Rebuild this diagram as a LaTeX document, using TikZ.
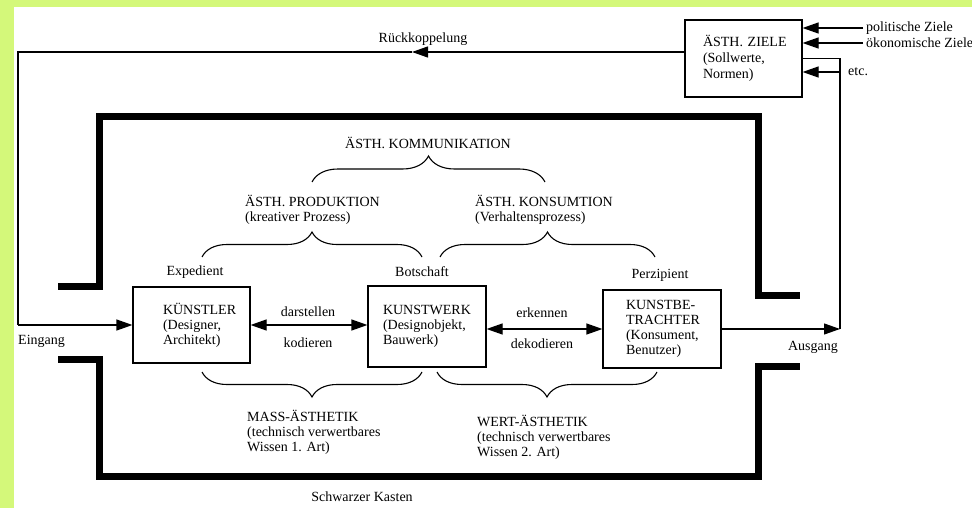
\documentclass[tikz,border=0pt]{standalone}
\usepackage{fontspec}
\setmainfont{Liberation Serif}
\usetikzlibrary{arrows.meta,decorations.pathreplacing}
\definecolor{bggreen}{RGB}{212,248,122}
\begin{document}
\begin{tikzpicture}[x=1pt,y=-1pt,
  font=\fontsize{14}{15}\selectfont,
  thinline/.style={line width=1.2pt},
  arrowtip/.style={-{Triangle[length=16pt,width=11pt]}},
  dblarrow/.style={{Triangle[length=16pt,width=11pt]}-{Triangle[length=16pt,width=11pt]}},
  box/.style={draw,line width=1.2pt,inner sep=0pt,align=left},
  kasten/.style={line width=7pt,line join=miter},
  bracedeco/.style={decorate,decoration={brace,amplitude=#1},line width=1.1pt},
  lbl/.style={inner sep=0pt}]
\useasboundingbox (0,0) rectangle (972,508);
\fill[bggreen] (0,0) rectangle (972,508);
\fill[white] (14,7) rectangle (972,508);

% boxes
\node[box,minimum width=117pt,minimum height=76pt,text width=57pt] (kuenstler) at (191.5,325) {KÜNSTLER\\(Designer,\\Architekt)};
\node[box,minimum width=118pt,minimum height=81pt,text width=88pt] (kunstwerk) at (427,326.5) {KUNSTWERK\\(Designobjekt,\\Bauwerk)};
\node[box,minimum width=118pt,minimum height=78pt,text width=72pt] (betrachter) at (662,329) {KUNSTBE-\\TRACHTER\\(Konsument,\\Benutzer)};
\node[box,minimum width=117pt,minimum height=77pt,text width=81pt,font=\fontsize{14}{16}\selectfont] (ziele) at (743.5,58.5) {ÄSTH.~ZIELE\\(Sollwerte,\\Normen)};

% black box (Schwarzer Kasten)
\draw[kasten] (58,286) -- (99,286) -- (99,117) -- (758,117) -- (758,295) -- (800,295);
\draw[kasten] (58,359) -- (99,359) -- (99,476) -- (758,476) -- (758,366) -- (800,366);

% feedback loop
\coordinate (fbTL) at (18,52);
\coordinate (fbArrow) at (412,52);
\coordinate (fbBL) at (18,325);
\draw[thinline,arrowtip] (ziele.west |- fbTL) -- (fbArrow);
\draw[thinline] (fbArrow) -- (fbTL) -- (fbBL |- kuenstler.west);
\draw[thinline,arrowtip] (fbBL |- kuenstler.west) -- (kuenstler.west);
\node[lbl] (rueck) at (423,39) {Rückkoppelung};
\node[lbl,anchor=west] (eingang) at (18,341) {Eingang};

% inner arrows
\draw[thinline,dblarrow] (kuenstler.east) -- (kuenstler.east -| kunstwerk.west);
\draw[thinline,dblarrow] (kunstwerk.east |- betrachter.west) -- (betrachter.west);
\node[lbl] (darst) at (308,312) {darstellen};
\node[lbl] (kod) at (308,343) {kodieren};
\node[lbl] (erk) at (542,313) {erkennen};
\node[lbl] (dekod) at (542,344) {dekodieren};

% output loop
\coordinate (outR) at (840,329);
\coordinate (outTop) at (840,58.5);
\coordinate (etcC) at (840,72);
\draw[thinline,arrowtip] (betrachter.east) -- (outR);
\draw[thinline] (outR) -- (outTop) -- (ziele.east);
\draw[thinline,arrowtip] (etcC) -- (ziele.east |- etcC);
\node[lbl] (ausgang) at (813,347) {Ausgang};
\node[lbl,anchor=west] (etc) at (848,72) {etc.};

% goal inputs
\node[anchor=west,inner sep=3pt] (pol) at (863,28) {politische Ziele};
\node[anchor=west,inner sep=3pt] (oek) at (863,43) {ökonomische Ziele};
\draw[thinline,arrowtip] (pol.west) -- (ziele.east |- pol.west);
\draw[thinline,arrowtip] (oek.west) -- (ziele.east |- oek.west);

% braces and labels above
\node[lbl] (komm) at (428,143) {ÄSTH. KOMMUNIKATION};
\draw[bracedeco=26pt] (312,182) -- (545,182);
\node[lbl,anchor=west,align=left] (prod) at (245,210) {ÄSTH. PRODUKTION\\(kreativer Prozess)};
\node[lbl,anchor=west,align=left] (kons) at (475,210) {ÄSTH. KONSUMTION\\(Verhaltensprozess)};
\draw[bracedeco=25pt] (202,257) -- (422,257);
\draw[bracedeco=25pt] (440,257) -- (655,257);
\node[lbl] (exped) at (195,272) {Expedient};
\node[lbl] (botsch) at (422,272) {Botschaft};
\node[lbl] (perz) at (660,275) {Perzipient};

% braces below
\draw[bracedeco=25pt] (422,372) -- (202,372);
\draw[bracedeco=25pt] (657,372) -- (437,372);
\node[lbl,anchor=west,align=left] (mass) at (247,432) {MASS-ÄSTHETIK\\(technisch verwertbares\\Wissen 1. Art)};
\node[lbl,anchor=west,align=left] (wert) at (477,437) {WERT-ÄSTHETIK\\(technisch verwertbares\\Wissen 2. Art)};
\node[lbl] (schwarz) at (362,497) {Schwarzer Kasten};
\end{tikzpicture}
\end{document}
